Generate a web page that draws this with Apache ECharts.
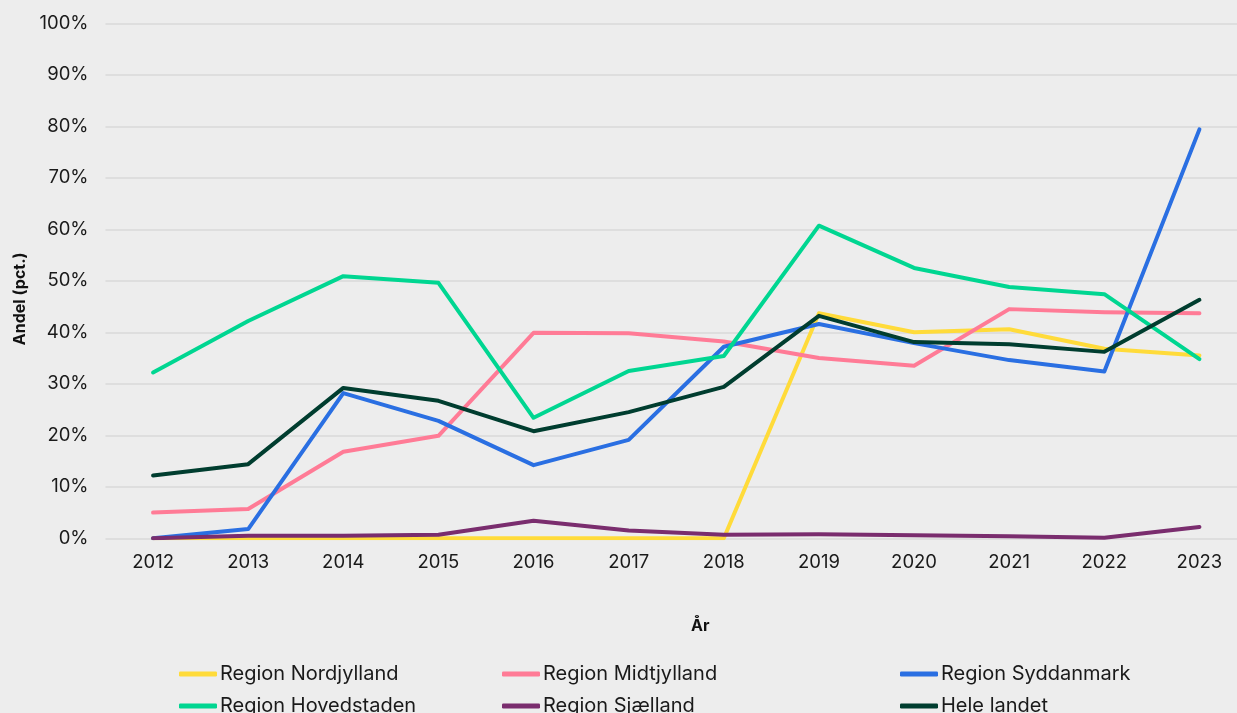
<!DOCTYPE html>
<html>
<head>
<meta charset="utf-8">
<script src="https://cdn.jsdelivr.net/npm/echarts@6/dist/echarts.min.js"></script>
<style>
  html, body { margin: 0; padding: 0; background: #ededed; }
  #chart { width: 1237px; height: 713px; }
</style>
</head>
<body>
<div id="chart"></div>
<script>
// år
const years = ['2012','2013','2014','2015','2016','2017','2018','2019','2020','2021','2022','2023'];
const yTicks = [0, 10, 20, 30, 40, 50, 60, 70, 80, 90, 100];

// andel i pct. pr. region
const nordjylland = [0, 0, 0, 0, 0, 0, 0, 43.7, 40.0, 40.6, 36.8, 35.5];
const midtjylland = [5.0, 5.7, 16.8, 19.9, 39.9, 39.8, 38.2, 35.0, 33.5, 44.5, 43.9, 43.7];
const syddanmark = [0, 1.8, 28.2, 22.8, 14.2, 19.1, 37.2, 41.6, 37.9, 34.6, 32.4, 79.4];
const hovedstaden = [32.2, 42.2, 50.9, 49.6, 23.4, 32.5, 35.4, 60.7, 52.5, 48.8, 47.4, 34.8];
const sjaelland = [0, 0.5, 0.5, 0.7, 3.4, 1.5, 0.7, 0.8, 0.6, 0.4, 0.1, 2.2];
const heleLandet = [12.2, 14.4, 29.2, 26.7, 20.8, 24.5, 29.4, 43.2, 38.1, 37.7, 36.2, 46.3];

const names = ['Region Nordjylland','Region Midtjylland','Region Syddanmark','Region Hovedstaden','Region Sjælland','Hele landet'];
const colors = ['#ffdb3a','#ff7b96','#2a6fe2','#00d691','#7a2d6e','#003d2f'];
const allData = [nordjylland, midtjylland, syddanmark, hovedstaden, sjaelland, heleLandet];

const font = 'Inter, "Open Sans", sans-serif';

// en legend pr. kolonne
function legendCol(left, items) {
  return {
    orient: 'vertical',
    left: left,
    top: 664,
    height: 90,
    padding: 0,
    itemWidth: 38,
    itemHeight: 5,
    itemGap: 12,
    icon: 'roundRect',
    data: items,
    textStyle: { fontFamily: font, fontSize: 20, color: '#1a1a1a', lineHeight: 20, padding: [0, 0, 0, -2] }
  };
}

const chart = echarts.init(document.getElementById('chart'));
chart.setOption({
  backgroundColor: '#ededed',
  animation: false,
  color: colors,
  grid: { left: 105.5, width: 1141.5, top: 23.3, height: 515, outerBoundsMode: 'none' },
  legend: [
    legendCol(179, [names[0], names[3]]),
    legendCol(502, [names[1], names[4]]),
    legendCol(900, [names[2], names[5]])
  ],
  xAxis: {
    type: 'category',
    data: years,
    boundaryGap: true,
    name: 'År',
    nameLocation: 'middle',
    nameGap: 80,
    nameTextStyle: { fontFamily: font, fontSize: 16, fontWeight: 'bold', color: '#111', padding: [0, 0, 0, 48] },
    axisLine: { show: false },
    axisTick: { show: false },
    axisLabel: { fontFamily: font, fontSize: 18.5, color: '#1a1a1a', margin: 15 }
  },
  yAxis: {
    type: 'value',
    min: yTicks[0],
    max: yTicks[yTicks.length - 1],
    interval: 10,
    name: 'Andel (pct.)',
    nameLocation: 'middle',
    nameGap: 77,
    nameTextStyle: { fontFamily: font, fontSize: 16, fontWeight: 'bold', color: '#111', padding: [0, 36, 0, 0] },
    axisLabel: { fontFamily: font, fontSize: 18.5, color: '#1a1a1a', margin: 17, formatter: '{value}%' },
    splitLine: { lineStyle: { color: '#d8d8d8', width: 1.5 } }
  },
  series: allData.map((d, i) => ({
    name: names[i],
    type: 'line',
    data: d,
    symbol: 'none',
    lineStyle: { width: 4, color: colors[i], cap: 'round', join: 'round' },
    itemStyle: { color: colors[i] }
  }))
});
</script>
</body>
</html>
